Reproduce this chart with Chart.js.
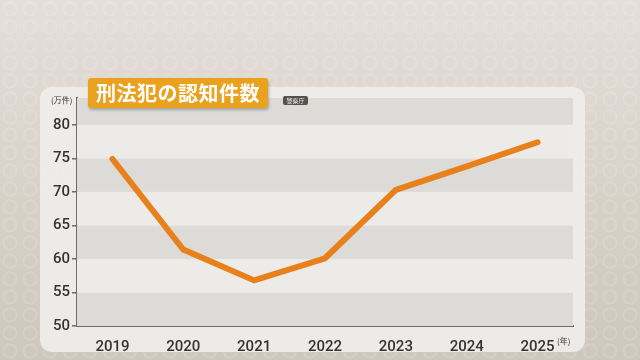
<!DOCTYPE html>
<html>
<head>
<meta charset="utf-8">
<script src="https://cdn.jsdelivr.net/npm/chart.js@4/dist/chart.umd.min.js"></script>
<style>
  html, body { margin: 0; padding: 0; }
  body {
    width: 640px; height: 360px; overflow: hidden; position: relative;
    background-color: #d8d1c8;
    background-image:
      radial-gradient(circle, transparent 5px, rgba(255,255,255,0.12) 6px, rgba(255,255,255,0.12) 7px, transparent 8px),
      linear-gradient(180deg, #e4dfd9 0%, #d8d1c8 55%, #cfc7bd 100%);
    background-size: 20px 18px, 100% 100%;
    font-family: "Noto Sans CJK JP", "Noto Sans", sans-serif;
  }
  #chart { position: absolute; left: 0; top: 0; }
  .title {
    position: absolute; left: 88px; top: 78px; width: 180px; height: 30px;
    background: #e9a11e; border-radius: 3px;
    box-shadow: 1px 2px 3px rgba(0,0,0,0.25);
    color: #fff; font-weight: 700; font-size: 20px; line-height: 30px;
    text-align: center; letter-spacing: 0.5px;
  }
  .src {
    position: absolute; left: 283px; top: 96px; width: 25px; height: 9px;
    background: #55524e; border-radius: 2px;
    color: #eee; font-size: 6px; line-height: 9px; text-align: center;
  }
  .unit { position: absolute; font-size: 8px; color: #333; }
</style>
</head>
<body>
<canvas id="chart" width="640" height="360"></canvas>
<div class="title">刑法犯の認知件数</div>
<div class="src">警察庁</div>
<div class="unit" style="left:51px; top:94px;">(万件)</div>
<div class="unit" style="left:557px; top:335px;">(年)</div>
<script>
const years = ['2019', '2020', '2021', '2022', '2023', '2024', '2025'];
const cases = [74.9, 61.4, 56.8, 60.1, 70.3, 73.8, 77.4];
const yTicks = [50, 55, 60, 65, 70, 75, 80];

// rounded panel behind the plot
const panel = {
  id: 'panel',
  beforeDraw(chart) {
    const ctx = chart.ctx;
    ctx.save();
    ctx.fillStyle = 'rgba(239,237,234,0.92)';
    ctx.beginPath();
    ctx.roundRect(40, 87, 545, 265, 12);
    ctx.fill();
    ctx.restore();
  }
};

// alternating horizontal bands
const bands = {
  id: 'bands',
  beforeDatasetsDraw(chart) {
    const { ctx, chartArea, scales: { y } } = chart;
    const edges = yTicks.concat([y.max]);
    ctx.save();
    for (let i = 0; i < edges.length - 1; i++) {
      const top = y.getPixelForValue(edges[i + 1]);
      const bottom = y.getPixelForValue(edges[i]);
      ctx.fillStyle = i % 2 === 0 ? '#dddbd7' : '#ecebe8';
      ctx.fillRect(chartArea.left, top, chartArea.right - chartArea.left, bottom - top);
    }
    ctx.restore();
  }
};

new Chart(document.getElementById('chart'), {
  type: 'line',
  data: {
    labels: years,
    datasets: [{
      data: cases,
      borderColor: '#e8801b',
      borderWidth: 6,
      borderCapStyle: 'round',
      pointRadius: 0,
      tension: 0
    }]
  },
  options: {
    responsive: false,
    animation: false,
    layout: { padding: { left: 0, right: 67, top: 98, bottom: 0 } },
    plugins: { legend: { display: false }, tooltip: { enabled: false } },
    scales: {
      x: {
        offset: true,
        grid: { display: false },
        border: { display: true, color: '#6f6c69', width: 2 },
        ticks: { color: '#333', padding: 4, font: { family: 'Roboto', size: 15, weight: '500' } },
        afterFit(scale) { scale.height = 34; }
      },
      y: {
        min: 50,
        max: 84,
        afterBuildTicks(scale) { scale.ticks = yTicks.map(v => ({ value: v })); },
        grid: { drawOnChartArea: false, drawTicks: true, tickLength: 5, color: '#6f6c69', lineWidth: 1.5 },
        border: { display: true, color: '#6f6c69', width: 2 },
        ticks: { color: '#333', padding: 2, font: { family: 'Roboto', size: 15, weight: '500' } },
        afterFit(scale) { scale.width = 77; }
      }
    }
  },
  plugins: [panel, bands]
});
</script>
</body>
</html>
